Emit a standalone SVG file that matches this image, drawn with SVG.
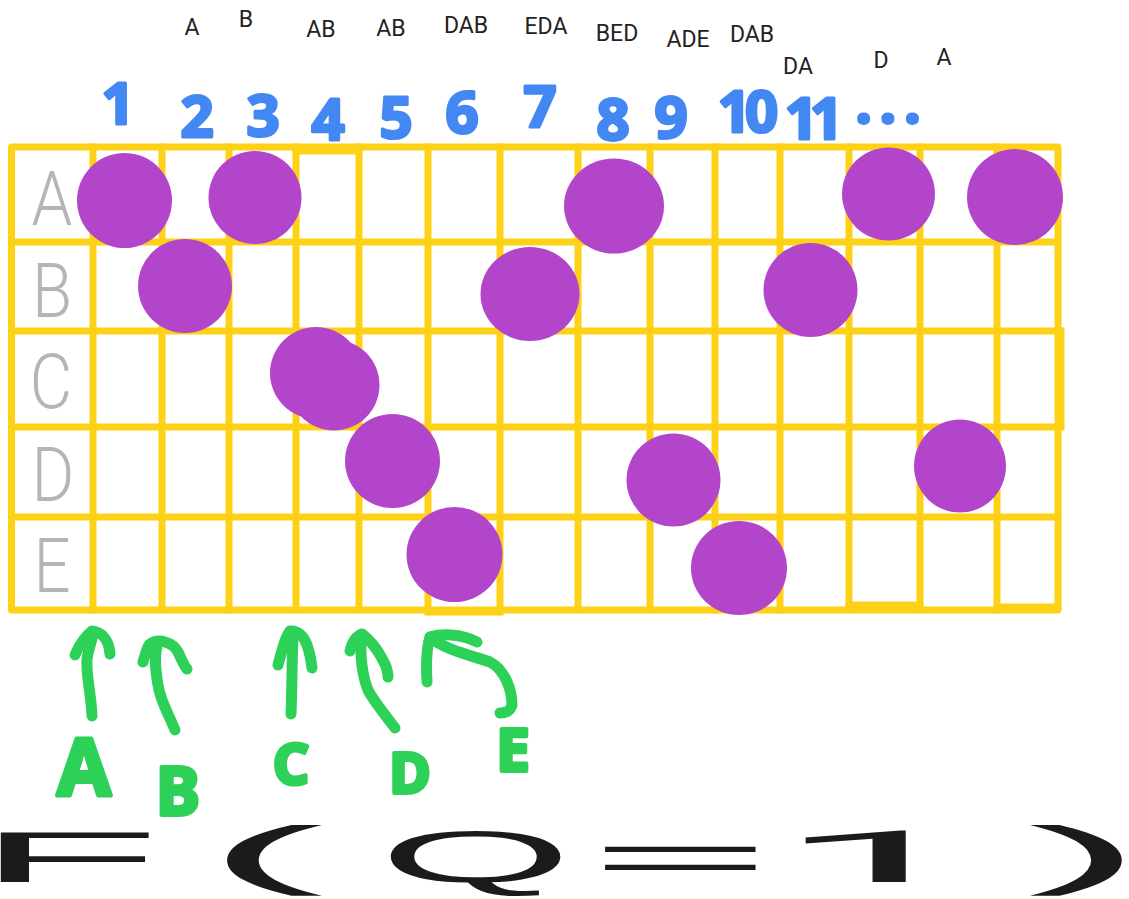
<svg xmlns="http://www.w3.org/2000/svg" width="1129" height="899" viewBox="0 0 1129 899">
<style>
.grid{fill:none;stroke:#FDD116;stroke-width:7;stroke-linecap:square;stroke-linejoin:round}
.dot{fill:#B345CB}
.row{font-family:Roboto,"Liberation Sans",sans-serif;font-weight:300;font-size:76px;fill:#B5B5B5;text-anchor:middle}
.num{font-family:"Noto Sans","Liberation Sans",sans-serif;font-weight:700;font-size:58px;fill:#4388F2;stroke:#4388F2;stroke-width:3;stroke-linejoin:round;text-anchor:middle}
.lab{font-family:Roboto,"Liberation Sans",sans-serif;font-size:23px;fill:#222;text-anchor:middle}
.gl{font-family:"Noto Sans","Liberation Sans",sans-serif;font-weight:700;fill:#2ED158;stroke:#2ED158;stroke-width:4;stroke-linejoin:round;text-anchor:middle}
.arrow{fill:none;stroke:#2ED158;stroke-width:11;stroke-linecap:round;stroke-linejoin:round}
.big{font-family:"Liberation Sans",Arial,sans-serif;font-size:72px;fill:#1B1B1B}
.par{font-family:"Liberation Sans",Arial,sans-serif;font-size:76px;fill:#1B1B1B}
</style>
<rect width="1129" height="899" fill="#FFFFFF"/>

<g id="top-labels">
<text class="lab" x="192" y="35">A</text>
<text class="lab" x="246" y="27">B</text>
<text class="lab" x="321" y="37">AB</text>
<text class="lab" x="391" y="36">AB</text>
<text class="lab" x="466" y="33">DAB</text>
<text class="lab" x="546" y="34">EDA</text>
<text class="lab" x="617" y="41">BED</text>
<text class="lab" x="688" y="47">ADE</text>
<text class="lab" x="752" y="42">DAB</text>
<text class="lab" x="798" y="74">DA</text>
<text class="lab" x="881" y="68">D</text>
<text class="lab" x="944" y="65">A</text>
</g>

<g id="column-numbers">
<text class="num" x="118" y="124" font-size="44">1</text>
<text class="num" x="197" y="137">2</text>
<text class="num" x="263" y="136">3</text>
<text class="num" x="328" y="140">4</text>
<text class="num" x="396" y="138">5</text>
<text class="num" x="462" y="133">6</text>
<text class="num" x="540" y="127">7</text>
<text class="num" x="613" y="140">8</text>
<text class="num" x="671" y="138">9</text>
<text class="num" x="745" y="132" font-size="50" letter-spacing="-6">10</text>
<text class="num" x="810" y="139" font-size="50" letter-spacing="-8">11</text>
<text class="num" x="892" y="123" font-size="44" letter-spacing="8">...</text>
</g>

<g id="grid">
<rect class="grid" x="11.5" y="147" width="1046.5" height="463" stroke-width="8"/>
<path class="grid" d="M12,242H1058M12,331H1060M12,427H1058M12,517H1058"/>
<path class="grid" d="M93,147V610M162,147V610M229,147V610M296,147V610M359,147V610M428,147V610M500,147V610M578,147V610M650,147V610M715,147V610M780,147V610M849,147V610M920,147V610M997,147V610"/>
<path class="grid" d="M1061,331V427M849,605H920M296,151H359M428,612H500M997,607H1058"/>
</g>

<g id="row-labels">
<text class="row" transform="translate(52,225) scale(0.86,1)">A</text>
<text class="row" transform="translate(52,317) scale(0.86,1)">B</text>
<text class="row" transform="translate(51,408) scale(0.86,1)">C</text>
<text class="row" transform="translate(53,501) scale(0.86,1)">D</text>
<text class="row" transform="translate(52,592) scale(0.86,1)">E</text>
</g>

<g id="dots">
<circle class="dot" cx="124.5" cy="200.5" r="47.5"/>
<circle class="dot" cx="255" cy="197.5" r="46.5"/>
<ellipse class="dot" cx="614" cy="206" rx="50" ry="47.5"/>
<circle class="dot" cx="888.5" cy="194" r="46.5"/>
<ellipse class="dot" cx="1015" cy="197" rx="48" ry="48"/>
<circle class="dot" cx="185" cy="286" r="47"/>
<ellipse class="dot" cx="530" cy="294" rx="49.5" ry="47"/>
<circle class="dot" cx="810.5" cy="290" r="47"/>
<circle class="dot" cx="316" cy="373" r="46"/>
<circle class="dot" cx="334" cy="385" r="45.5"/>
<ellipse class="dot" cx="392.5" cy="461" rx="47.5" ry="47"/>
<ellipse class="dot" cx="673.5" cy="480" rx="47" ry="46.5"/>
<ellipse class="dot" cx="960" cy="466" rx="46" ry="46.5"/>
<ellipse class="dot" cx="454.5" cy="554.5" rx="48" ry="47.5"/>
<ellipse class="dot" cx="739" cy="568" rx="48" ry="47"/>
</g>

<g id="arrows">
<path class="arrow" d="M92,716 C91,692 86,676 87,660 C88,648 93,640 93,632"/>
<path class="arrow" d="M75,655 C80,643 86,636 92,631 C102,632 109,640 110,654"/>
<path class="arrow" d="M175,730 C168,713 160,700 158,685 C155,668 154,655 158,642"/>
<path class="arrow" d="M143,662 C145,655 147,648 149,645 C153,641 160,640 165,642 C172,644 176,648 178,652 C181,658 184,666 187,669"/>
<path class="arrow" d="M291,714 C292,690 292,660 293,634"/>
<path class="arrow" d="M278,665 C282,650 285,638 290,631 C297,630 304,636 307,645 C310,653 311,660 312,668"/>
<path class="arrow" d="M395,728 C385,715 373,700 368,690 C362,675 360,660 361,636"/>
<path class="arrow" d="M350,651 C352,643 356,636 362,634 C370,640 378,650 384,662 C387,668 388,673 388,677"/>
<path class="arrow" d="M427,682 C426,665 426,650 430,637 C440,634 460,633 477,642"/>
<path class="arrow" d="M430,637 C445,650 470,655 490,662 C505,670 512,690 512,705 C510,712 505,713 500,713"/>
</g>

<g id="arrow-labels">
<text class="gl" x="84" y="795" font-size="78">A</text>
<text class="gl" x="178" y="815" font-size="66">B</text>
<text class="gl" x="291" y="784" font-size="56">C</text>
<text class="gl" x="410" y="793" font-size="56">D</text>
<text class="gl" x="513" y="771" font-size="60">E</text>
</g>

<g id="formula">
<text class="big" transform="translate(-24,882) scale(4.2,1)">F</text>
<text class="par" transform="translate(205,880) scale(4.7,1)">(</text>
<text class="big" transform="translate(379,882) scale(3.45,1)">Q</text>
<text class="big" transform="translate(590,882) scale(4.3,1)">=</text>
<text class="big" style="font-family:Roboto,'Liberation Sans',sans-serif" transform="translate(775,882) scale(5.1,1)">1</text>
<text class="par" transform="translate(1028,880) scale(4.55,1)">)</text>
</g>
</svg>
